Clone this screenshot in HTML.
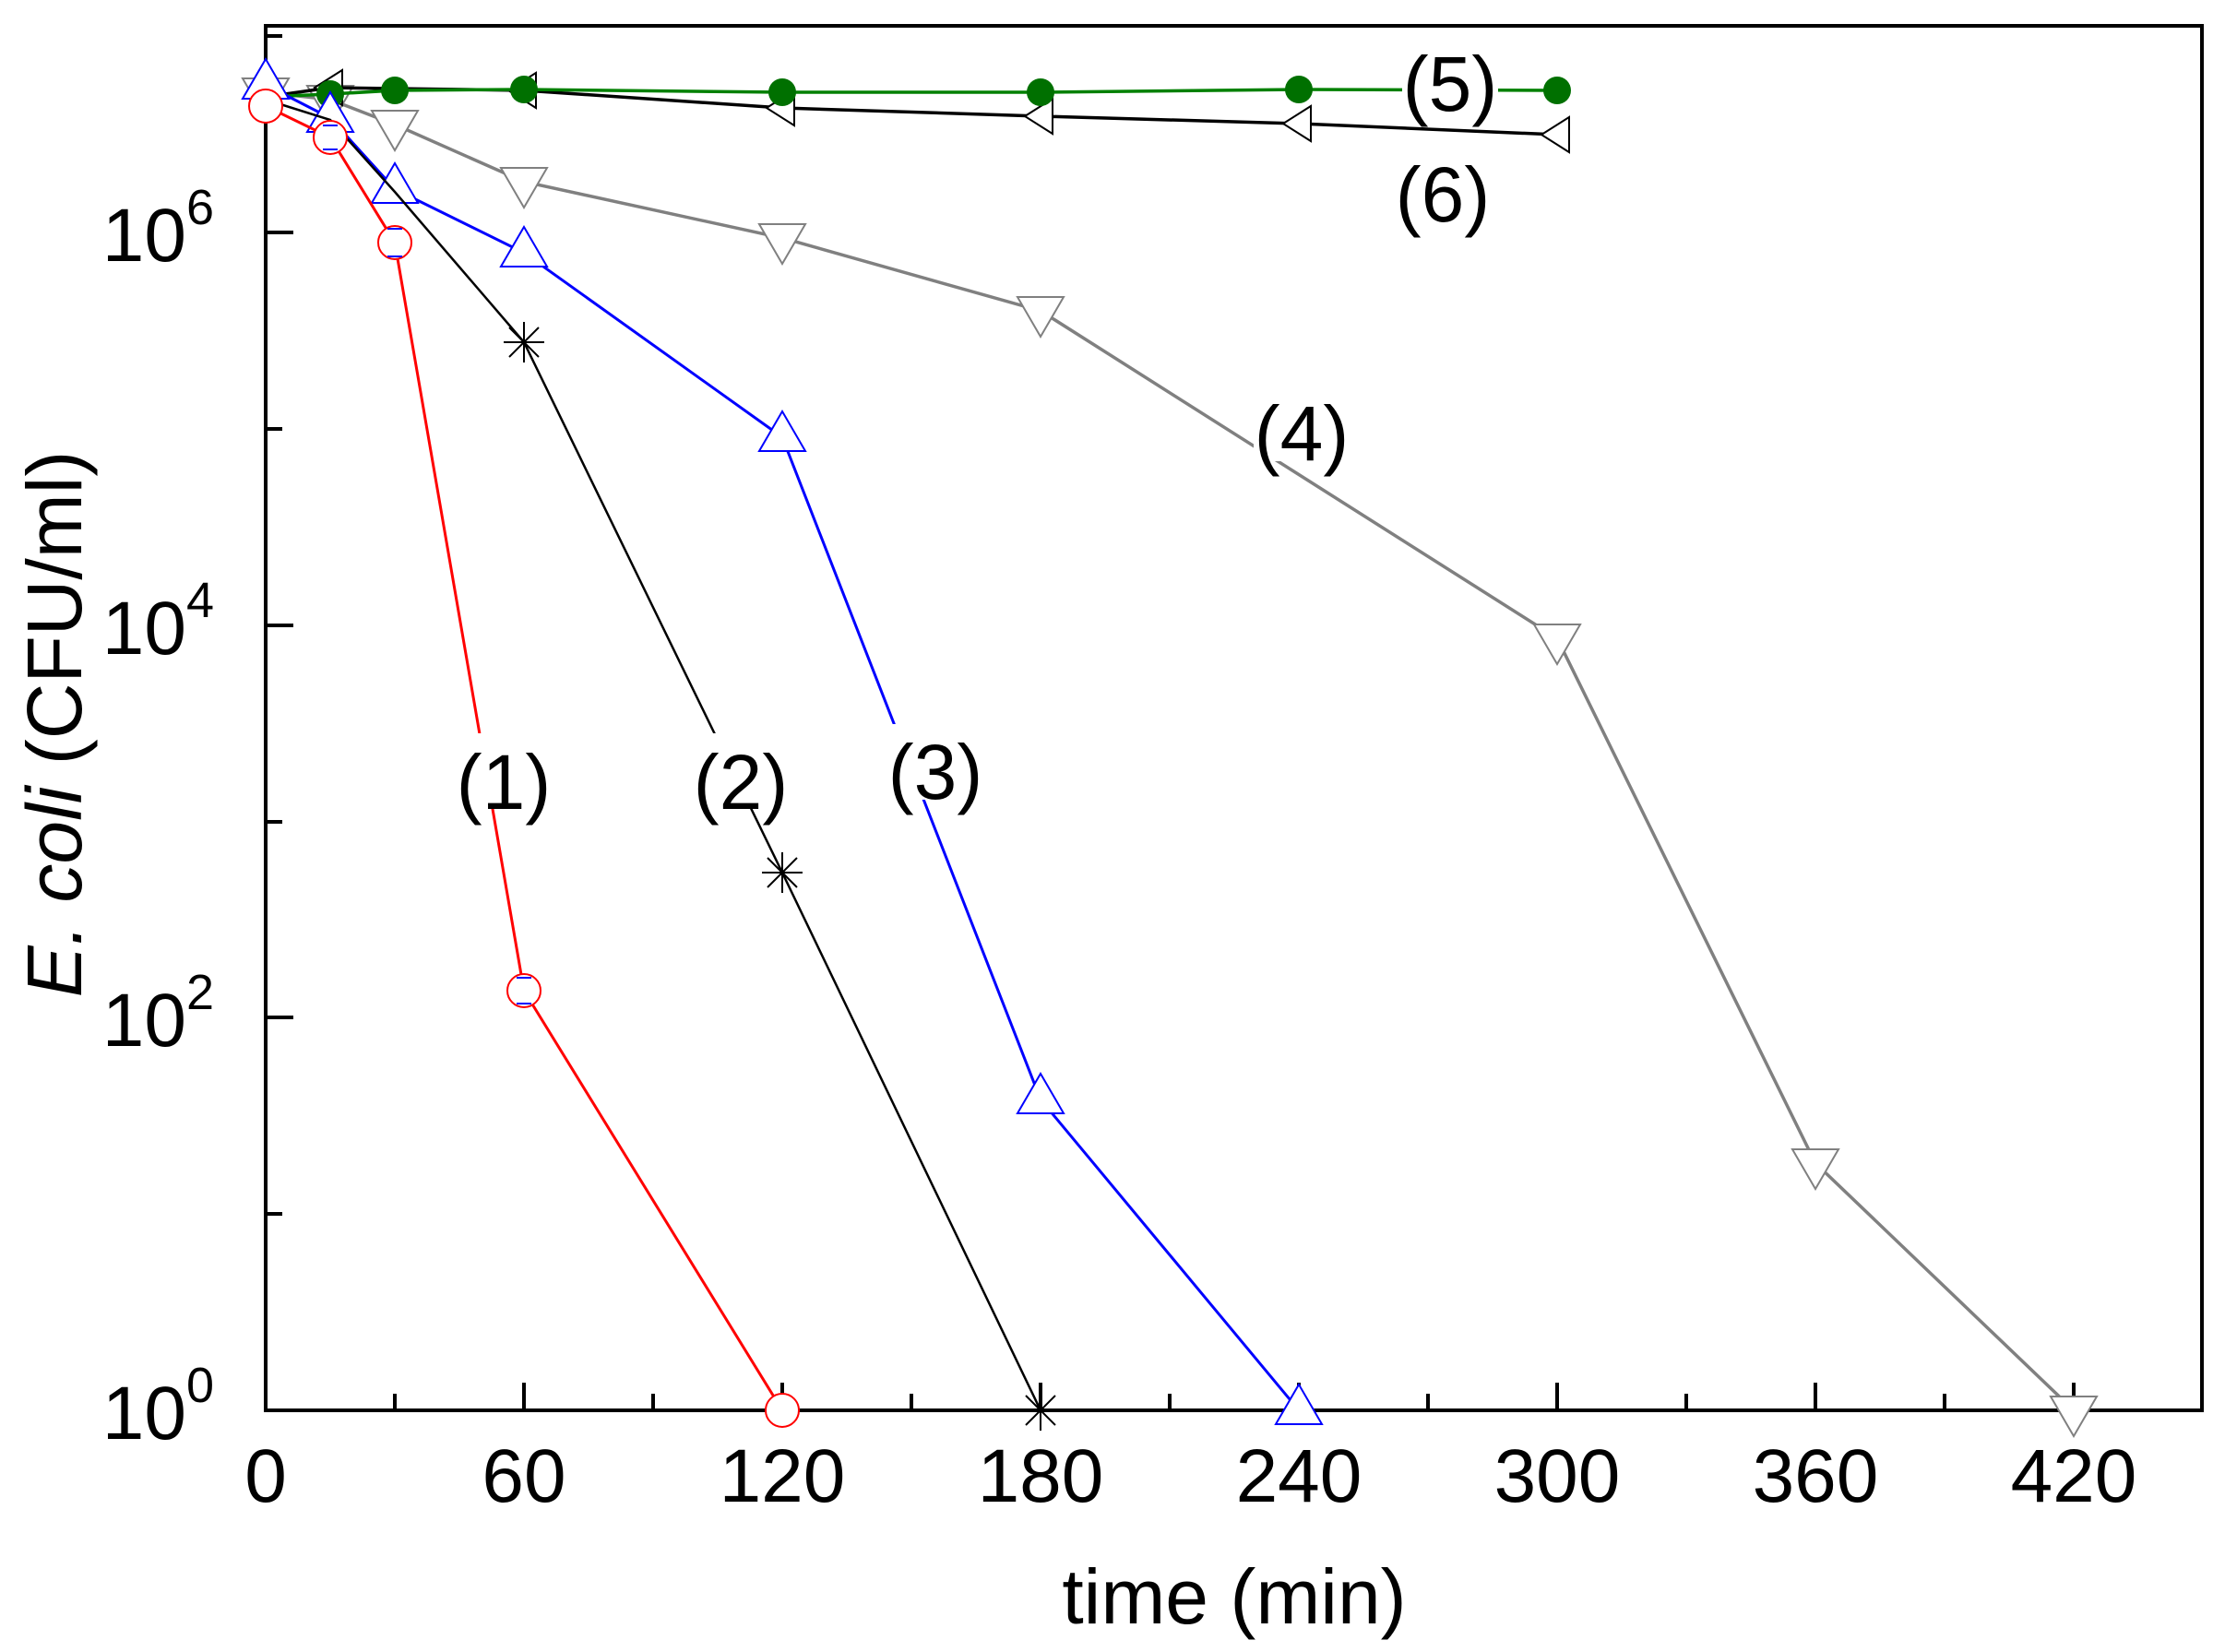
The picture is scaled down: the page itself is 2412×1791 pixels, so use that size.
<!DOCTYPE html>
<html><head><meta charset="utf-8"><style>
html,body{margin:0;padding:0;background:#fff}
svg{display:block}
text{font-family:"Liberation Sans",sans-serif;fill:#000}
</style></head><body>
<svg width="2412" height="1791" viewBox="0 0 2412 1791" xmlns="http://www.w3.org/2000/svg">
<defs>
<path id="tu" d="M0,-28 L25,15 L-25,15 Z"/>
<path id="td" d="M0,28 L25,-15 L-25,-15 Z"/>
<path id="tl" d="M-17,0 L13,-19 L13,19 Z"/>
</defs>
<rect x="288" y="28" width="2099" height="1501" fill="none" stroke="#000" stroke-width="4"/>
<g stroke="#000" stroke-width="4">
<line x1="288" y1="1529" x2="318" y2="1529"/><line x1="288" y1="1316" x2="306" y2="1316"/>
<line x1="288" y1="1103" x2="318" y2="1103"/><line x1="288" y1="891" x2="306" y2="891"/>
<line x1="288" y1="678" x2="318" y2="678"/><line x1="288" y1="465" x2="306" y2="465"/>
<line x1="288" y1="252" x2="318" y2="252"/><line x1="288" y1="39" x2="306" y2="39"/>
<line x1="428" y1="1529" x2="428" y2="1511"/><line x1="568" y1="1529" x2="568" y2="1499"/>
<line x1="708" y1="1529" x2="708" y2="1511"/><line x1="848" y1="1529" x2="848" y2="1499"/>
<line x1="988" y1="1529" x2="988" y2="1511"/><line x1="1128" y1="1529" x2="1128" y2="1499"/>
<line x1="1268" y1="1529" x2="1268" y2="1511"/><line x1="1408" y1="1529" x2="1408" y2="1499"/>
<line x1="1548" y1="1529" x2="1548" y2="1511"/><line x1="1688" y1="1529" x2="1688" y2="1499"/>
<line x1="1828" y1="1529" x2="1828" y2="1511"/><line x1="1968" y1="1529" x2="1968" y2="1499"/>
<line x1="2108" y1="1529" x2="2108" y2="1511"/><line x1="2248" y1="1529" x2="2248" y2="1499"/>
</g>
<g font-size="82" text-anchor="middle">
<text x="288" y="1628">0</text><text x="568" y="1628">60</text><text x="848" y="1628">120</text>
<text x="1128" y="1628">180</text><text x="1408" y="1628">240</text><text x="1688" y="1628">300</text>
<text x="1968" y="1628">360</text><text x="2248" y="1628">420</text>
</g>
<g font-size="82" text-anchor="end">
<text x="232" y="1560">10<tspan font-size="54" dy="-40">0</tspan></text>
<text x="232" y="1134">10<tspan font-size="54" dy="-40">2</tspan></text>
<text x="232" y="709">10<tspan font-size="54" dy="-40">4</tspan></text>
<text x="232" y="283">10<tspan font-size="54" dy="-40">6</tspan></text>
</g>
<text x="1338" y="1760" font-size="84" text-anchor="middle">time (min)</text>
<text transform="translate(88,785) rotate(-90)" font-size="84" text-anchor="middle"><tspan font-style="italic">E. coli</tspan> (CFU/ml)</text>
<polyline fill="none" stroke="#808080" stroke-width="3.5" points="288,100 358,108 428,135 568,197 848,258 1128,337 1688,692 1968,1261 2248,1529"/>
<g fill="#fff" stroke="#808080" stroke-width="2">
<use href="#td" x="288" y="100"/><use href="#td" x="358" y="108"/><use href="#td" x="428" y="135"/><use href="#td" x="568" y="197"/><use href="#td" x="848" y="258"/><use href="#td" x="1128" y="337"/><use href="#td" x="1688" y="692"/><use href="#td" x="1968" y="1261"/><use href="#td" x="2248" y="1529"/>
</g>
<polyline fill="none" stroke="#000" stroke-width="3.5" points="288,105 358,95 568,98 848,117 1128,126 1408,134 1688,146"/>
<g fill="#fff" stroke="#000" stroke-width="2">
<use href="#tl" x="358" y="95"/><use href="#tl" x="568" y="98"/><use href="#tl" x="848" y="117"/><use href="#tl" x="1128" y="126"/><use href="#tl" x="1408" y="134"/><use href="#tl" x="1688" y="146"/>
</g>
<polyline fill="none" stroke="#008000" stroke-width="3.5" points="288,105 358,102 428,98 568,97 848,100 1128,100 1408,97 1688,98"/>
<g fill="#007000">
<circle cx="288" cy="105" r="15"/><circle cx="358" cy="102" r="15"/><circle cx="428" cy="98" r="15"/><circle cx="568" cy="97" r="15"/><circle cx="848" cy="100" r="15"/><circle cx="1128" cy="100" r="15"/><circle cx="1408" cy="97" r="15"/><circle cx="1688" cy="98" r="15"/>
</g>
<polyline fill="none" stroke="#0000ff" stroke-width="3" points="288,92 358,128 428,205 568,274 848,474 1128,1192 1408,1529"/>
<g fill="#fff" stroke="#0000ff" stroke-width="2">
<use href="#tu" x="288" y="92"/><use href="#tu" x="358" y="128"/><use href="#tu" x="428" y="205"/><use href="#tu" x="568" y="274"/><use href="#tu" x="848" y="474"/><use href="#tu" x="1128" y="1192"/><use href="#tu" x="1408" y="1529"/>
</g>
<polyline fill="none" stroke="#000" stroke-width="2.5" points="288,108 358,130 428,208 568,371 848,946 1128,1529"/>
<g stroke="#000" stroke-width="2">
<path d="M546,371h44M568,349v44M552,355l32,32M584,355l-32,32"/>
<path d="M826,946h44M848,924v44M832,930l32,32M864,930l-32,32"/>
<path d="M1106,1529h44M1128,1507v44M1112,1513l32,32M1144,1513l-32,32"/>
</g>
<polyline fill="none" stroke="#ff0000" stroke-width="3" points="288,115 358,149 428,263 568,1074 848,1529"/>
<g fill="#fff" stroke="#ff0000" stroke-width="2">
<circle cx="288" cy="115" r="18"/><circle cx="358" cy="149" r="18"/><circle cx="428" cy="263" r="18"/><circle cx="568" cy="1074" r="18"/><circle cx="848" cy="1529" r="18"/>
</g>
<g stroke="#0000ff" stroke-width="2">
<path d="M420,248h16M420,278h16M560,1060h16M560,1088h16M350,136h16M350,162h16"/>
</g>
<g font-size="84" text-anchor="middle">
<rect x="494" y="795" width="104" height="82" fill="#fff"/><text x="546" y="877">(1)</text>
<rect x="751" y="795" width="104" height="82" fill="#fff"/><text x="803" y="877">(2)</text>
<rect x="962" y="785" width="104" height="82" fill="#fff"/><text x="1014" y="866">(3)</text>
<rect x="1359" y="418" width="104" height="82" fill="#fff"/><text x="1411" y="499">(4)</text>
<rect x="1520" y="52" width="104" height="82" fill="#fff"/><text x="1572" y="120">(5)</text>
<text x="1564" y="240">(6)</text>
</g>
</svg>
</body></html>
